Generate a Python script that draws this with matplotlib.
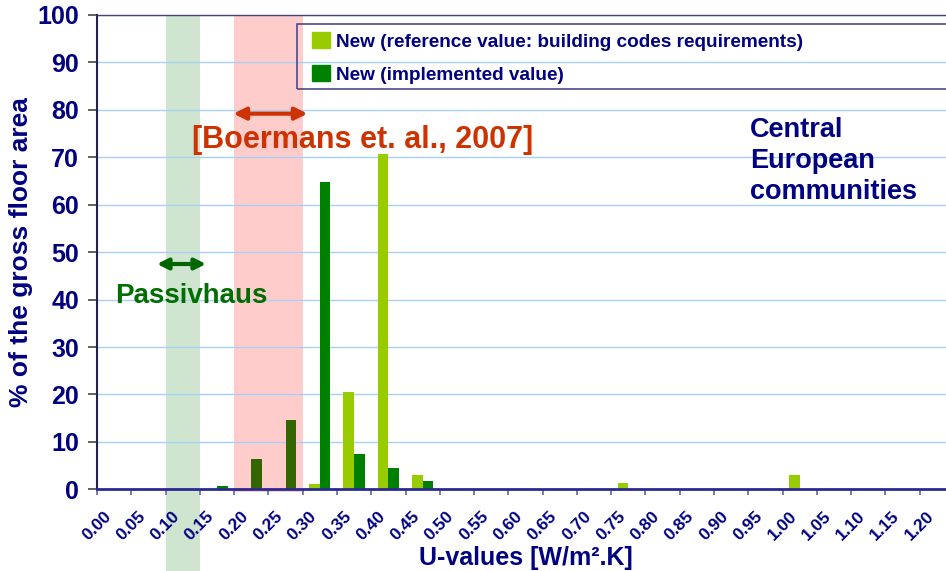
import numpy as np
import matplotlib.pyplot as plt
from matplotlib.patches import Rectangle, Patch
import matplotlib.transforms as mtransforms

plt.rcParams['font.family'] = ['Liberation Sans', 'DejaVu Sans']
plt.rcParams['font.weight'] = 'bold'

# U-value classes (category axis)
u_labels = ['0.00', '0.05', '0.10', '0.15', '0.20', '0.25', '0.30', '0.35', '0.40',
            '0.45', '0.50', '0.55', '0.60', '0.65', '0.70', '0.75', '0.80', '0.85',
            '0.90', '0.95', '1.00', '1.05', '1.10', '1.15', '1.20']
# % of gross floor area
reference_val = [0, 0, 0, 0, 0, 0, 1.2, 20.5, 70.7, 3.0, 0, 0, 0, 0, 0, 1.3,
                 0, 0, 0, 0, 3.0, 0, 0, 0, 0]
implemented_val = [0, 0, 0, 0.6, 6.4, 14.7, 64.8, 7.4, 4.4, 1.75, 0, 0, 0, 0, 0, 0,
                   0, 0, 0, 0, 0, 0, 0, 0, 0]
y_ticks = [0, 10, 20, 30, 40, 50, 60, 70, 80, 90, 100]

passiv_range = (0.10, 0.15)
boermans_range = (0.20, 0.30)

navy = '#000080'
light = '#99CC00'
dark = '#008000'
olive = '#336600'

fig = plt.figure(figsize=(9.46, 5.71), dpi=100)
ax = fig.add_axes([97 / 946, 1 - 489.3 / 571, 857 / 946, 474.3 / 571])

x = np.arange(len(u_labels))
vals = np.array([float(s) for s in u_labels])
w = 0.31

# bands: category i covers [u_i, u_i + 0.05]
def cat_span(lo, hi):
    i0 = np.where(np.isclose(vals, lo))[0][0]
    i1 = np.where(np.isclose(vals, hi))[0][0]
    return i0 - 0.5, i1 - 0.5

g0, g1 = cat_span(*passiv_range)
r0, r1 = cat_span(*boermans_range)

blend = mtransforms.blended_transform_factory(ax.transData, fig.transFigure)
ax.add_patch(Rectangle((g0, 0), g1 - g0, 1 - 15 / 571, transform=blend,
                       facecolor='#CFE5CF', edgecolor='none', clip_on=False, zorder=0.2))
ax.add_patch(Rectangle((r0, 1 - 492 / 571), r1 - r0, (492 - 15) / 571, transform=blend,
                       facecolor='#FFCCCC', edgecolor='none', clip_on=False, zorder=0.2))

impl_colors = [olive if boermans_range[0] - 1e-9 <= v < boermans_range[1] - 1e-9 else dark
               for v in vals]
ax.bar(x - w / 2, reference_val, w, color=light, zorder=2)
ax.bar(x + w / 2, implemented_val, w, color=impl_colors, zorder=2)

ax.set_xlim(-0.5, len(u_labels) - 0.5)
ax.set_ylim(0, 100)
ax.set_yticks(y_ticks)
ax.set_axisbelow(True)
ax.yaxis.grid(True, color='#A8D0F5', lw=1)

ax.set_xticks(x)
ax.set_xticklabels(u_labels, rotation=45, ha='right', va='top',
                   fontsize=12.5, color=navy, fontweight='bold')
offset = mtransforms.ScaledTranslation(-0.05, 0, fig.dpi_scale_trans)
for lab in ax.get_xticklabels():
    lab.set_transform(lab.get_transform() + offset)
ax.set_xticks(np.arange(-0.5, len(u_labels), 1), minor=True)
ax.tick_params(axis='x', which='major', length=0, pad=14)
ax.tick_params(axis='x', which='minor', length=4, width=1.2, color='#6666AA', direction='out')
ax.tick_params(axis='y', length=6.5, width=1.3, color='#555555', pad=6.5,
               labelsize=18, labelcolor=navy)

ax.spines['right'].set_visible(False)
ax.spines['left'].set_color('#22224A')
ax.spines['left'].set_linewidth(1.5)
ax.spines['bottom'].set_color('#2A2A90')
ax.spines['bottom'].set_linewidth(2)
ax.spines['top'].set_color('#444477')
ax.spines['top'].set_linewidth(1)

ax.set_xlabel('U-values [W/m².K]', fontsize=18, color=navy, fontweight='bold')
ax.xaxis.set_label_coords(0.5, -0.119)
ax.set_ylabel('% of the gross floor area', fontsize=19, color=navy, fontweight='bold')
ax.yaxis.set_label_coords(-0.075, 0.5)

# annotations
ax.annotate('', xy=(3.48, 79.2), xytext=(5.64, 79.2),
            arrowprops=dict(arrowstyle='<|-|>', color='#CC3300', lw=3, mutation_scale=18,
                            shrinkA=0, shrinkB=0), zorder=4)
ax.text(2.28, 72.0, '[Boermans et. al., 2007]', color='#CC3300', fontsize=22,
        fontweight='bold', va='baseline', ha='left', zorder=4)
ax.annotate('', xy=(1.25, 47.5), xytext=(2.68, 47.5),
            arrowprops=dict(arrowstyle='<|-|>', color='#006600', lw=3, mutation_scale=16,
                            shrinkA=0, shrinkB=0), zorder=4)
ax.text(0.03, 39.3, 'Passivhaus', color='#006E00', fontsize=20,
        fontweight='bold', va='baseline', ha='left', zorder=4)
for line, yb in zip(['Central', 'European', 'communities'], [74.3, 67.8, 61.2]):
    ax.text(18.55, yb, line, color=navy, fontsize=19.5, fontweight='bold',
            va='baseline', ha='left', zorder=4)

# legend
handles = [Patch(color=light), Patch(color=dark)]
ax.legend(handles, ['New (reference value: building codes requirements)',
                    'New (implemented value)'],
          loc='upper left', bbox_to_anchor=(312 / 946, 1 - 32 / 571),
          bbox_transform=fig.transFigure, frameon=False,
          prop={'size': 13.7, 'weight': 'bold'}, labelcolor=navy,
          handlelength=0.95, handleheight=0.95, handletextpad=0.3,
          labelspacing=0.75, borderpad=0, borderaxespad=0)
fig.add_artist(Rectangle((297 / 946, 1 - 89 / 571), 0.75, 65 / 571,
                         transform=fig.transFigure, fill=False,
                         edgecolor='#4B4B8C', lw=1.2, zorder=5))

fig.savefig('out.png', dpi=100)
